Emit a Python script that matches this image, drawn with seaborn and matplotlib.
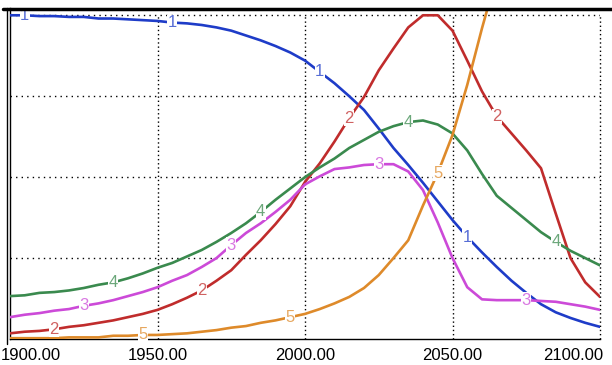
import numpy as np
import pandas as pd
import matplotlib
matplotlib.use("Agg")
import matplotlib.pyplot as plt
import matplotlib.transforms as mtransforms
from matplotlib.lines import Line2D
import seaborn as sns

# ---------------- data ----------------
years = list(range(1900, 2101, 5))
series1 = [4.00, 4.00, 3.99, 3.99, 3.98, 3.98, 3.96, 3.96, 3.95, 3.94,
           3.93, 3.91, 3.90, 3.88, 3.85, 3.81, 3.75, 3.69, 3.62, 3.54,
           3.44, 3.30, 3.16, 3.00, 2.83, 2.60, 2.36, 2.15, 1.93, 1.70,
           1.47, 1.26, 1.07, 0.89, 0.72, 0.57, 0.43, 0.33, 0.26, 0.20, 0.15]
series2 = [0.07, 0.09, 0.10, 0.12, 0.15, 0.17, 0.20, 0.23, 0.27, 0.31,
           0.36, 0.43, 0.51, 0.60, 0.72, 0.85, 1.04, 1.22, 1.42, 1.64,
           1.94, 2.17, 2.44, 2.73, 2.99, 3.32, 3.59, 3.85, 4.00, 4.00,
           3.81, 3.44, 3.06, 2.75, 2.54, 2.33, 2.11, 1.55, 1.00, 0.70, 0.52]
series3 = [0.27, 0.30, 0.32, 0.35, 0.37, 0.41, 0.44, 0.48, 0.53, 0.58,
           0.64, 0.72, 0.79, 0.89, 1.00, 1.16, 1.31, 1.43, 1.57, 1.72,
           1.91, 2.01, 2.10, 2.12, 2.15, 2.16, 2.16, 2.07, 1.84, 1.44,
           1.00, 0.64, 0.49, 0.48, 0.48, 0.48, 0.47, 0.46, 0.43, 0.40, 0.36]
series4 = [0.53, 0.54, 0.57, 0.58, 0.60, 0.63, 0.67, 0.70, 0.75, 0.81,
           0.88, 0.94, 1.02, 1.10, 1.20, 1.31, 1.43, 1.57, 1.72, 1.86,
           2.00, 2.12, 2.23, 2.36, 2.46, 2.56, 2.63, 2.68, 2.70, 2.65,
           2.54, 2.33, 2.04, 1.77, 1.62, 1.47, 1.32, 1.20, 1.09, 1.00, 0.91]
years5 = list(range(1900, 2066, 5))
series5 = [0.01, 0.01, 0.01, 0.01, 0.02, 0.02, 0.02, 0.04, 0.04, 0.05,
           0.05, 0.06, 0.07, 0.09, 0.11, 0.14, 0.16, 0.20, 0.23, 0.27,
           0.31, 0.37, 0.44, 0.52, 0.63, 0.79, 1.00, 1.22, 1.65, 2.05,
           2.52, 3.14, 3.84, 4.49]

series_names = ["1", "2", "3", "4", "5"]
line_colors = ["#1e3cc8", "#c02c2c", "#cc4ad8", "#3a8a4e", "#de8a2a"]
label_years = [
    [1905, 1955, 2005, 2055],
    [1915, 1965, 2015, 2065],
    [1925, 1975, 2025, 2075],
    [1935, 1985, 2035, 2085],
    [1945, 1995, 2045],
]
xticks = [1900, 1950, 2000, 2050, 2100]
yticks = [1, 2, 3, 4]

# ---------------- figure ----------------
sns.set_style("white")
plt.rcParams["font.family"] = ["Liberation Sans", "DejaVu Sans"]

W, H = 612, 365
fig = plt.figure(figsize=(W / 100, H / 100), dpi=100)
ax = fig.add_axes([10 / W, (H - 339) / H, 590 / W, 331 / H])

all_x = [years, years, years, years, years5]
all_y = [series1, series2, series3, series4, series5]
frames = []
for name, xs, ys in zip(series_names, all_x, all_y):
    frames.append(pd.DataFrame({"year": xs, "value": ys, "series": name}))
df = pd.concat(frames, ignore_index=True)

sns.lineplot(data=df, x="year", y="value", hue="series",
             palette=dict(zip(series_names, line_colors)),
             linewidth=1.9, legend=False, estimator=None, ax=ax, zorder=3)

ax.set_xlim(1900, 2100)
ax.set_ylim(0, 4.09)

# dotted grid
ax.hlines(yticks, xticks[0], xticks[-1], colors="black",
          linestyles=(0, (1, 3)), linewidth=1, zorder=1)
ax.vlines(xticks[1:], 0, yticks[-1], colors="black",
          linestyles=(0, (1, 2)), linewidth=1, zorder=1, clip_on=False)

# line labels
for name, xs, ys, col, lys in zip(series_names, all_x, all_y, line_colors, label_years):
    for ly in lys:
        yv = np.interp(ly, xs, ys)
        ax.text(ly, yv, name, color=col, alpha=0.75, fontsize=12,
                ha="center", va="center", zorder=5,
                bbox=dict(facecolor="white", edgecolor="none", pad=0.3))

ax.set_xticks(xticks)
ax.set_xticklabels([f"{t:.2f}" for t in xticks])
ax.set_yticks(yticks)
ax.set_yticklabels([])
ax.set_xlabel("")
ax.set_ylabel("")
ax.tick_params(axis="x", direction="out", length=5, width=1, colors="black",
               labelsize=12, pad=1.5)
ax.tick_params(axis="y", direction="out", length=4, width=1, colors="black")
for s in ["top", "right"]:
    ax.spines[s].set_visible(False)
for s in ["left", "bottom"]:
    ax.spines[s].set_color("black")
    ax.spines[s].set_linewidth(1)

labels = ax.get_xticklabels()
labels[0].set_ha("left")
labels[0].set_transform(labels[0].get_transform() +
                        mtransforms.ScaledTranslation(-9 / 100, 0, fig.dpi_scale_trans))
labels[-1].set_ha("right")
labels[-1].set_transform(labels[-1].get_transform() +
                         mtransforms.ScaledTranslation(3 / 100, 0, fig.dpi_scale_trans))

# frame decorations
fig.add_artist(Line2D([0.005, 1], [(H - 8.5) / H] * 2, color="black", lw=2.5))
fig.add_artist(Line2D([6.5 / W] * 2, [(H - 8) / H, (H - 344) / H], color="black", lw=1))

fig.savefig("out.png", dpi=100, facecolor="white")
